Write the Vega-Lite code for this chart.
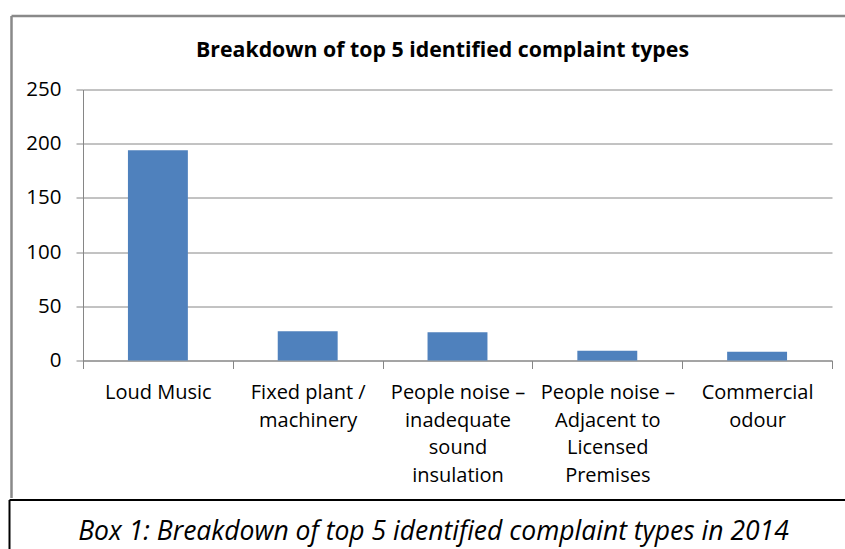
{
  "$schema": "https://vega.github.io/schema/vega-lite/v6.json",
  "background": "white",
  "padding": {"left": 9, "top": 15.5, "right": 0, "bottom": 0},
  "bounds": "flush",
  "spacing": 139,
  "config": {
    "font": "Open Sans",
    "view": {"stroke": null}
  },
  "vconcat": [
    {
      "width": 749,
      "height": 271,
      "layer": [
        {
          "data": {
            "values": [
              {"type": "Loud Music", "count": 194},
              {"type": "Fixed plant /\nmachinery", "count": 27},
              {"type": "People noise –\ninadequate\nsound\ninsulation", "count": 26},
              {"type": "People noise –\nAdjacent to\nLicensed\nPremises", "count": 9},
              {"type": "Commercial\nodour", "count": 8}
            ]
          },
          "mark": {"type": "bar", "color": "#4F81BD", "width": {"band": 0.4}},
          "encoding": {
            "x": {
              "field": "type",
              "type": "nominal",
              "sort": null,
              "scale": {"paddingInner": 0, "paddingOuter": 0},
              "axis": {
                "title": null,
                "labelAngle": 0,
                "tickBand": "extent",
                "labelExpr": "split(datum.label, '\\n')",
                "labelLineHeight": 27.5,
                "labelFontSize": 20,
                "labelColor": "black",
                "labelPadding": 14,
                "labelOverlap": false,
                "labelLimit": 0,
                "tickSize": 8,
                "tickColor": "#868686",
                "domainColor": "#868686",
                "grid": false
              }
            },
            "y": {
              "field": "count",
              "type": "quantitative",
              "scale": {"domain": [0, 250]},
              "axis": {
                "title": null,
                "values": [0, 50, 100, 150, 200, 250],
                "grid": true,
                "gridColor": "#868686",
                "gridOpacity": 1,
                "domainColor": "#868686",
                "tickColor": "#868686",
                "tickSize": 7,
                "labelPadding": 15,
                "labelFontSize": 20.5,
                "labelColor": "black"
              }
            }
          }
        },
        {
          "data": {"values": [{"fx": 0.5, "fy": 0.5}]},
          "mark": {"type": "point", "opacity": 0, "size": 0},
          "encoding": {
            "x": {
              "field": "fx",
              "type": "quantitative",
              "scale": {"domain": [0, 1], "range": [-72, 790], "nice": false, "zero": false},
              "axis": {
                "orient": "top",
                "offset": 74,
                "domainColor": "#898989",
                "domainWidth": 2.5,
                "ticks": false,
                "labels": false,
                "grid": false,
                "title": "Breakdown of top 5 identified complaint types",
                "titleFont": "Open Sans",
                "titleFontSize": 21.3,
                "titleFontWeight": "bold",
                "titleColor": "black",
                "titlePadding": -41,
                "titleBaseline": "alphabetic"
              }
            },
            "y": {
              "field": "fy",
              "type": "quantitative",
              "scale": {"domain": [0, 1], "range": [408, -74], "nice": false, "zero": false},
              "axis": {
                "orient": "left",
                "offset": 72,
                "domainColor": "#898989",
                "domainWidth": 2.5,
                "ticks": false,
                "labels": false,
                "grid": false,
                "title": null
              }
            }
          }
        }
      ],
      "resolve": {
        "scale": {"x": "independent", "y": "independent"},
        "axis": {"x": "independent", "y": "independent"}
      }
    },
    {
      "width": 761,
      "height": 60,
      "data": {"values": [{"caption": "Box 1: Breakdown of top 5 identified complaint types in 2014", "px": 0.5, "py": 0.5}]},
      "mark": {"type": "text", "font": "Open Sans", "fontStyle": "italic", "fontSize": 26.5, "color": "black", "dy": 2},
      "encoding": {
        "text": {"field": "caption"},
        "x": {
          "field": "px",
          "type": "quantitative",
          "scale": {"domain": [0, 1], "range": [-74, 775], "nice": false, "zero": false},
          "axis": {
            "orient": "top",
            "domainColor": "black",
            "domainWidth": 2,
            "ticks": false,
            "labels": false,
            "grid": false,
            "title": null
          }
        },
        "y": {
          "field": "py",
          "type": "quantitative",
          "scale": {"domain": [0, 1], "nice": false, "zero": false},
          "axis": {
            "orient": "left",
            "offset": 74,
            "domainColor": "black",
            "domainWidth": 2,
            "ticks": false,
            "labels": false,
            "grid": false,
            "title": null
          }
        }
      }
    }
  ]
}
